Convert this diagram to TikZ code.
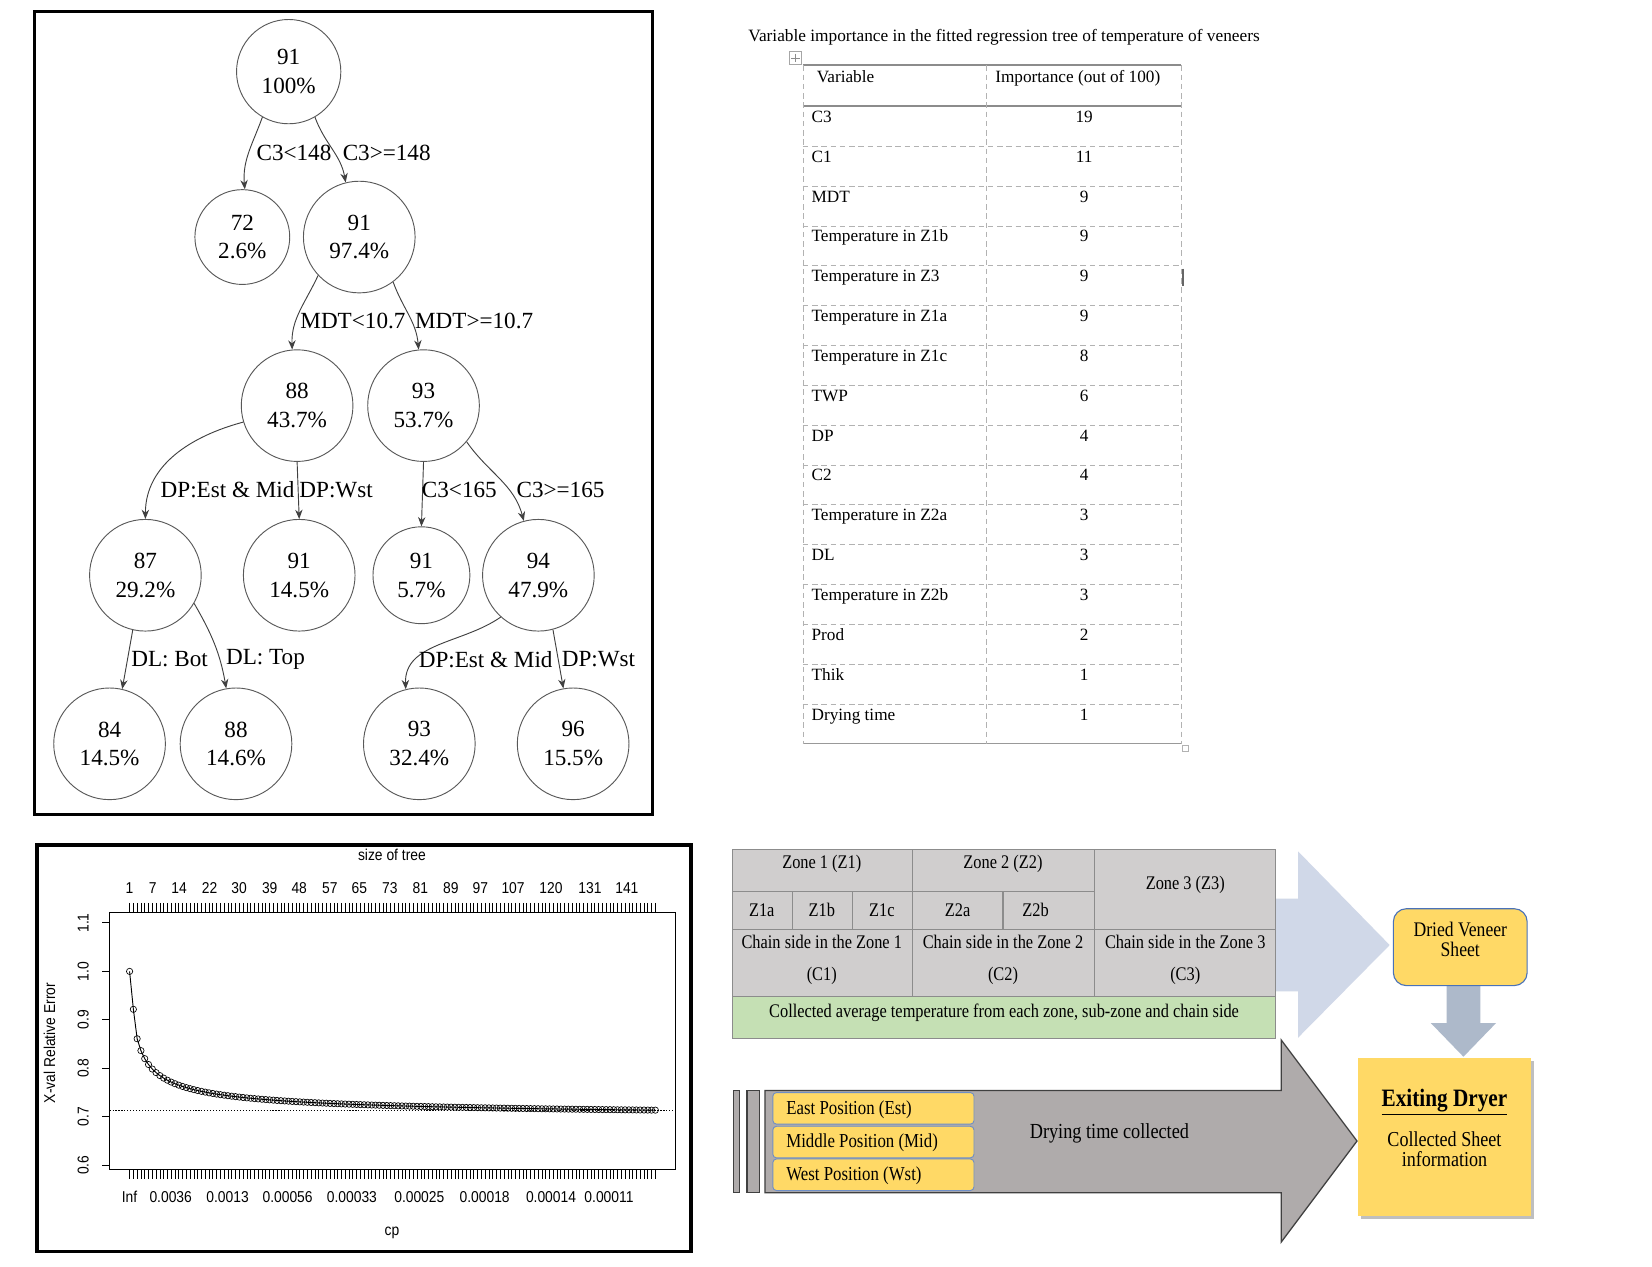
\documentclass[tikz,border=0pt]{standalone}
\usepackage{fontspec}
\setmainfont{Liberation Serif}
\newfontfamily\plotfont[FakeStretch=0.88]{Liberation Sans}
\newfontfamily\condserif[FakeStretch=0.85]{Liberation Serif}
\usetikzlibrary{arrows.meta,plotmarks}
\definecolor{zgrey}{HTML}{D0CECE}
\definecolor{zgreen}{HTML}{C5E0B4}
\definecolor{lblue}{HTML}{D0D8E8}
\definecolor{dblue}{HTML}{ADB9CA}
\definecolor{yel}{HTML}{FFD966}
\definecolor{arrgrey}{HTML}{AFABAB}
\definecolor{bordblue}{HTML}{4A72B8}
\tikzset{
 tnode/.style={draw=black!65, line width=0.5pt, circle, minimum size=2.12cm, inner sep=0pt, align=center, font=\fontsize{12.5}{15.5}\selectfont},
 tedge/.style={draw=black!75, line width=0.5pt, -{Stealth[length=5pt,width=4pt]}},
 tlab/.style={inner sep=0pt, font=\fontsize{12.5}{15}\selectfont},
 framebox/.style={draw=black, line width=1.8pt},
 tabfont/.style={inner sep=0pt, font=\fontsize{9.3}{11}\selectfont, text height=1.6ex, text depth=0.3ex},
 pfont/.style={inner sep=0pt, font=\plotfont\fontsize{8.5}{10}\selectfont},
 zfont/.style={inner sep=0pt, font=\condserif\fontsize{10.4}{12}\selectfont},
 zline/.style={draw=black!45, line width=0.6pt},
 posbox/.style={draw=bordblue!80, fill=yel, rounded corners=2pt, line width=0.5pt, minimum width=3.82cm, minimum height=0.6cm, inner sep=0pt},
 postext/.style={inner sep=0pt, anchor=west, font=\condserif\fontsize{10.7}{12}\selectfont},
}
\begin{document}
\begin{tikzpicture}[x=0.02cm,y=-0.02cm]
\useasboundingbox (0,0) rectangle (1568,1202);
\fill[white] (0,0) rectangle (1568,1202);

% ================= TREE =================
\draw[framebox] (33,11) rectangle (619,773);
\node[tnode, minimum size=1.98cm] (r) at (274,68) {91\\100\%};
\node[tnode, minimum size=1.8cm] (a) at (230,225) {72\\2.6\%};
\node[tnode] (b) at (341,225) {91\\97.4\%};
\node[tnode] (c) at (282,385) {88\\43.7\%};
\node[tnode] (d) at (402,385) {93\\53.7\%};
\node[tnode] (e) at (138,546) {87\\29.2\%};
\node[tnode] (f) at (284,546) {91\\14.5\%};
\node[tnode, minimum size=1.84cm] (g) at (400,546) {91\\5.7\%};
\node[tnode] (h) at (511,546) {94\\47.9\%};
\node[tnode] (i) at (104,706) {84\\14.5\%};
\node[tnode] (j) at (224,706) {88\\14.6\%};
\node[tnode] (k) at (398,706) {93\\32.4\%};
\node[tnode] (l) at (544,706) {96\\15.5\%};

\draw[tedge] (r.240) to[out=250,in=95] (a.87);
\draw[tedge] (r.300) to[out=290,in=100] (b.104);
\draw[tedge] (b.223) to[out=245,in=92] (c.95);
\draw[tedge] (b.307) to[out=290,in=95] (d.95);
\draw[tedge] (c.197) to[out=195,in=90] (e.north);
\draw[tedge] (c.south) -- (f.north);
\draw[tedge] (d.south) -- (g.north);
\draw[tedge] (d.320) to[out=305,in=105] (h.105);
\draw[tedge] (e.257) -- (i.77);
\draw[tedge] (e.330) to[out=300,in=100] (j.100);
\draw[tedge] (h.228) to[out=215,in=92] (k.104);
\draw[tedge] (h.285) -- (l.100);

\node[tlab] (l1) at (279,145) {C3<148};
\node[tlab] (l2) at (367,145) {C3>=148};
\node[tlab] (l3) at (335,305) {MDT<10.7};
\node[tlab] (l4) at (450,305) {MDT>=10.7};
\node[tlab] (l5) at (216,465) {DP:Est \& Mid};
\node[tlab] (l6) at (319,465) {DP:Wst};
\node[tlab] (l7) at (436,465) {C3<165};
\node[tlab] (l8) at (532,465) {C3>=165};
\node[tlab] (l9) at (161,626) {DL: Bot};
\node[tlab] (l10) at (252,626) {DL: Top};
\node[tlab] (l11) at (461,626) {DP:Est \& Mid};
\node[tlab] (l12) at (568,626) {DP:Wst};

% ================= TABLE =================
\node[inner sep=0pt, anchor=west, font=\fontsize{9.35}{11}\selectfont] (ttl) at (710,35) {Variable importance in the fitted regression tree of temperature of veneers};
\draw[black!35, line width=0.4pt] (749,49) rectangle (761,61);
\draw[black!45, line width=0.4pt] (755,51) -- (755,59) (751,55) -- (759,55);
\draw[black!45, line width=1.1pt] (762,62) -- (1121,62);
\draw[black!45, line width=1.1pt] (762,101) -- (1121,101);
\foreach \q in {1,...,15}{
  \draw[black!30, densely dashed, line width=0.35pt] (762,101+\q*37.81) -- (1121,101+\q*37.81);
}
\draw[black!40, line width=0.5pt] (762,706) -- (1121,706);
\draw[black!30, densely dashed, line width=0.35pt] (762,62) -- (762,706);
\draw[black!30, densely dashed, line width=0.35pt] (936,62) -- (936,706);
\draw[black!30, densely dashed, line width=0.35pt] (1121,62) -- (1121,706);
\draw[black!60, line width=0.9pt] (1123,255) -- (1123,271);
\draw[black!30, line width=0.4pt] (1122,707) rectangle (1128,713);
\node[tabfont, anchor=west] (hv) at (775,73) {Variable};
\node[tabfont] (hi) at (1023,73) {Importance (out of 100)};
\foreach \v/\n [count=\q from 0] in {C3/19, C1/11, MDT/9, Temperature in Z1b/9, Temperature in Z3/9, Temperature in Z1a/9, Temperature in Z1c/8, TWP/6, DP/4, C2/4, Temperature in Z2a/3, DL/3, Temperature in Z2b/3, Prod/2, Thik/1, Drying time/1}{
  \node[tabfont, anchor=west] (tv\q) at (770,111+\q*37.81) {\v};
  \node[tabfont] (tn\q) at (1029,111+\q*37.81) {\n};
}

% ================= PLOT =================
\draw[framebox] (35,802) rectangle (656,1188);
\draw[line width=0.6pt] (104,866) rectangle (641,1110);
\foreach \q in {1,...,140}{
  \draw[line width=0.35pt] ({123+(\q-1)*3.59},857) -- ({123+(\q-1)*3.59},866);
  \draw[line width=0.35pt] ({123+(\q-1)*3.59},1110) -- ({123+(\q-1)*3.59},1119);
}
\foreach \v [count=\q from 0] in {0.6,0.7,0.8,0.9,1.0,1.1}{
  \draw[line width=0.5pt] (97,1106-\q*46) -- (104,1106-\q*46);
  \node[pfont, rotate=90] (yl\q) at (79,1106-\q*46) {\v};
}
\node[pfont] (sot) at (372,811) {size of tree};
\foreach \t/\xx [count=\q] in {1/123,7/145,14/170,22/199,30/227,39/256,48/284,57/313,65/341,73/370,81/399,89/428,97/456,107/487,120/523,131/560,141/595}{
  \node[pfont] (tl\q) at (\xx,843) {\t};
}
\foreach \t/\xx [count=\q] in {Inf/123,0.0036/162,0.0013/216,0.00056/273,0.00033/334,0.00025/398,0.00018/460,0.00014/523,0.00011/578}{
  \node[pfont] (bl\q) at (\xx,1136) {\t};
}
\node[pfont] (cpl) at (372,1170) {cp};
\node[pfont, rotate=90] (yax) at (47,990) {X-val Relative Error};
\draw[densely dotted, line width=0.6pt] (104,1054) -- (641,1054);
\draw[line width=0.5pt, mark=o, mark size=1.7pt, mark options={line width=0.35pt}]
  plot coordinates {(123,922) (126.6,958)}
  -- plot[domain=3:140, samples=138] ({123+(\x-1)*3.59},{1063-141*pow(\x,-0.55)});

% ================= DRYER DIAGRAM =================
\fill[lblue] (1205,853) -- (1232,853) -- (1232,808) -- (1319,897) -- (1232,985) -- (1232,941) -- (1205,941) -- cycle;
\fill[zgrey] (695,806) rectangle (1211,946);
\fill[zgreen] (695,946) rectangle (1211,986);
\draw[zline] (695,806) rectangle (1211,986);
\draw[zline] (695,846) -- (1039,846);
\draw[zline] (695,882) -- (1211,882);
\draw[zline] (695,946) -- (1211,946);
\draw[zline] (866,806) -- (866,946);
\draw[zline] (1039,806) -- (1039,946);
\draw[zline] (752,846) -- (752,882);
\draw[zline] (809,846) -- (809,882);
\draw[zline] (952,846) -- (952,882);
\node[zfont] (z1) at (780,820) {Zone 1 (Z1)};
\node[zfont] (z2) at (952,820) {Zone 2 (Z2)};
\node[zfont] (z3) at (1125,840) {Zone 3 (Z3)};
\node[zfont] (z1a) at (723,864) {Z1a};
\node[zfont] (z1b) at (780,864) {Z1b};
\node[zfont] (z1c) at (837,864) {Z1c};
\node[zfont] (z2a) at (909,864) {Z2a};
\node[zfont] (z2b) at (983,864) {Z2b};
\node[zfont] (cs1) at (780,894) {Chain side in the Zone 1};
\node[zfont] (cs2) at (952,894) {Chain side in the Zone 2};
\node[zfont] (cs3) at (1125,894) {Chain side in the Zone 3};
\node[zfont] (c1) at (780,926) {(C1)};
\node[zfont] (c2) at (952,926) {(C2)};
\node[zfont] (c3) at (1125,926) {(C3)};
\node[zfont] (coll) at (953,961) {Collected average temperature from each zone, sub-zone and chain side};

\fill[dblue] (1373,936) -- (1405,936) -- (1405,971) -- (1420,971) -- (1389,1003) -- (1358,971) -- (1373,971) -- cycle;
\node[draw=bordblue, fill=yel, rounded corners=7pt, line width=0.6pt, minimum width=2.54cm, minimum height=1.46cm, inner sep=0pt] (dried) at (1386,899) {};
\node[inner sep=0pt, align=center, font=\condserif\fontsize{11.2}{10.8}\selectfont] (driedt) at (1386,892) {Dried Veneer\\Sheet};

\fill[black!25] (1292,1007) rectangle (1456,1157);
\node[fill=yel, minimum width=3.28cm, minimum height=3.0cm, inner sep=0pt] (exit) at (1371,1079) {};
\node[inner sep=0pt, font=\condserif\bfseries\fontsize{13.5}{15}\selectfont] (exitt) at (1371,1046) {\underline{Exiting Dryer}};
\node[inner sep=0pt, align=center, font=\condserif\fontsize{11.5}{11}\selectfont] (exitc) at (1371,1091) {Collected Sheet\\information};

\draw[draw=black!75, fill=arrgrey, line width=0.7pt] (726,1035) -- (1216,1035) -- (1216,987) -- (1288,1083) -- (1216,1179) -- (1216,1132) -- (726,1132) -- cycle;
\draw[draw=black!75, fill=arrgrey, line width=0.7pt] (696,1035) rectangle (702,1132);
\draw[draw=black!75, fill=arrgrey, line width=0.7pt] (709,1035) rectangle (721,1132);
\node[posbox] (est) at (829,1052) {};
\node[posbox] (mid) at (829,1084) {};
\node[posbox] (wst) at (829,1115) {};
\node[postext] (estt) at (746,1053) {East Position (Est)};
\node[postext] (midt) at (746,1085) {Middle Position (Mid)};
\node[postext] (wstt) at (746,1116) {West Position (Wst)};
\node[inner sep=0pt, font=\condserif\fontsize{11.6}{13}\selectfont] (dtc) at (1053,1076) {Drying time collected};
\end{tikzpicture}
\end{document}
